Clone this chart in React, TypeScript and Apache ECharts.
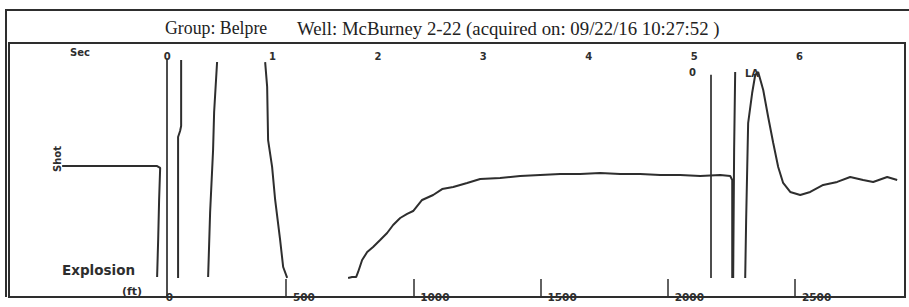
import React, { useEffect, useRef } from "react";
import * as echarts from "echarts";

// Time axis (top, seconds) and depth axis (bottom, ft)
const topTickLabels = ["0", "1", "2", "3", "4", "5", "6"];
const depthTicks = [500, 1000, 1500, 2000, 2500];
const depthLabels = [0, 500, 1000, 1500, 2000, 2500];

// Acoustic trace segments: [time (s), amplitude]; the trace is off-scale between segments
const segBaseline = [
  [-0.996, 3.1], [-0.5, 3.1], [-0.095, 3.1], [-0.066, 1.6], [-0.076, -23.6], [-0.085, -55.1], [-0.095, -84.3],
];
const segShot1 = [[0.104, -85.0], [0.104, 26.0], [0.123, 30.7], [0.133, 34.6], [0.133, 86.6]];
const segShot2 = [[0.389, -84.3], [0.408, -33.1], [0.436, 15.7], [0.446, 45.7], [0.474, 85.0]];
const segShot3 = [
  [0.93, 85.0], [0.949, 65.4], [0.958, 23.6], [0.996, 2.4], [1.025, -23.6], [1.072, -55.1], [1.101, -76.4], [1.139, -85.0],
];
const segRecovery = [
  [1.717, -85.0], [1.755, -84.3], [1.793, -84.3], [1.812, -80.3], [1.85, -70.9], [1.898, -64.6], [1.954, -60.6],
  [2.021, -55.1], [2.087, -49.6], [2.144, -43.3], [2.211, -37.8], [2.277, -34.6], [2.334, -32.3], [2.419, -23.6],
  [2.524, -19.7], [2.609, -15.0], [2.714, -13.4], [2.846, -10.2], [2.97, -7.1], [3.159, -6.3], [3.349, -4.7],
  [3.539, -3.9], [3.729, -3.1], [3.918, -3.1], [4.108, -2.4], [4.298, -3.1], [4.488, -3.1], [4.677, -3.9],
  [4.867, -3.9], [5.057, -4.7], [5.247, -3.9], [5.342, -4.7], [5.361, -7.9], [5.361, -85.0],
];
const segEcho1 = [[5.37, -85.0], [5.379, 15.7], [5.389, 77.2]];
const segEcho2 = [
  [5.484, -85.0], [5.493, -39.4], [5.512, 37.0], [5.55, 60.6], [5.579, 74.8], [5.607, 77.2], [5.655, 63.0],
  [5.702, 41.7], [5.75, 21.3], [5.797, 2.4], [5.844, -10.2], [5.911, -17.3], [6.006, -19.7], [6.101, -17.3],
  [6.224, -11.8], [6.357, -9.4], [6.48, -5.5], [6.603, -7.9], [6.698, -9.4], [6.831, -5.5], [6.926, -7.9],
];
const traceSegments = [segBaseline, segShot1, segShot2, segShot3, segRecovery, segEcho1, segEcho2];

// Marker lines: [time, top amplitude, bottom amplitude]
const markers = [
  [0, 88, -100],
  [5.161, 75, -85],
];

const INK = "#2e2e2e";
const LABEL_FONT = "DejaVu Sans";

export default function App() {
  const ref = useRef<HTMLDivElement>(null);

  useEffect(() => {
    document.body.style.margin = "0";
    if (!ref.current) return;
    const chart = echarts.init(ref.current, null, { renderer: "svg" });

    const series: any[] = traceSegments.map((seg, i) => ({
      type: "line",
      xAxisIndex: 0,
      yAxisIndex: 0,
      data: seg,
      symbol: "none",
      showSymbol: false,
      silent: true,
      lineStyle: { color: INK, width: 2 },
      markLine:
        i === 0
          ? {
              silent: true,
              symbol: "none",
              label: { show: false },
              lineStyle: { color: INK, width: 1.7, type: "solid" },
              data: markers.map((m) => [{ coord: [m[0], m[1]] }, { coord: [m[0], m[2]] }]),
            }
          : undefined,
    }));

    const titleStyle = { fontFamily: "Liberation Serif", fontWeight: "normal", color: "#222" };

    const option: any = {
      animation: false,
      backgroundColor: "#fff",
      title: [
        {
          text: "Group: Belpre",
          left: 160,
          top: 14,
          textStyle: { ...titleStyle, fontSize: 17.8 },
        },
        {
          text: "Well: McBurney 2-22 (acquired on: 09/22/16 10:27:52 )",
          left: 292,
          top: 14,
          textStyle: { ...titleStyle, fontSize: 18.8 },
        },
      ],
      grid: {
        left: 9,
        right: 4,
        top: 43,
        bottom: 10,
        show: true,
        borderColor: INK,
        borderWidth: 2,
      },
      xAxis: [
        {
          type: "value",
          position: "top",
          min: -1.5,
          max: 7,
          interval: 0.5,
          axisLine: { show: false },
          axisTick: { show: false },
          splitLine: { show: false },
          axisLabel: {
            inside: true,
            margin: 8,
            showMinLabel: true,
            showMaxLabel: true,
            color: INK,
            fontFamily: LABEL_FONT,
            fontWeight: "bold",
            fontSize: 10,
            formatter: (v: number) => {
              const s = String(v);
              return topTickLabels.includes(s) ? s : "";
            },
          },
        },
        {
          type: "value",
          position: "bottom",
          min: -588.4,
          max: 2932.2,
          axisLine: { show: false },
          splitLine: { show: false },
          axisTick: {
            show: true,
            inside: true,
            length: 18,
            customValues: depthTicks,
            lineStyle: { color: INK, width: 1.5 },
          },
          axisLabel: {
            customValues: depthLabels,
            margin: 0,
            align: "left",
            verticalAlign: "middle",
            padding: [0, 0, 0, 7],
            color: INK,
            fontFamily: LABEL_FONT,
            fontWeight: "bold",
            fontSize: 10.5,
            formatter: (v: number) => String(v),
          },
        },
      ],
      yAxis: {
        type: "value",
        min: -100,
        max: 100,
        show: false,
      },
      graphic: [
        { type: "line", silent: true, shape: { x1: 5, y1: 10, x2: 909, y2: 10 }, style: { stroke: INK, lineWidth: 2 } },
        { type: "line", silent: true, shape: { x1: 6, y1: 9, x2: 6, y2: 297 }, style: { stroke: INK, lineWidth: 2 } },
        {
          type: "text", silent: true, x: 70, y: 47,
          style: { text: "Sec", fill: INK, font: `bold 10px "${LABEL_FONT}"` },
        },
        {
          type: "text", silent: true, x: 62, y: 263,
          style: { text: "Explosion", fill: INK, font: `bold 13.5px "${LABEL_FONT}"` },
        },
        {
          type: "text", silent: true, x: 122, y: 286,
          style: { text: "(ft)", fill: INK, font: `bold 11px "${LABEL_FONT}"` },
        },
        {
          type: "text", silent: true, x: 52, y: 172, rotation: Math.PI / 2,
          style: { text: "Shot", fill: INK, font: `bold 10px "${LABEL_FONT}"` },
        },
        {
          type: "text", silent: true, x: 689, y: 67,
          style: { text: "0", fill: INK, font: `bold 10px "${LABEL_FONT}"` },
        },
        {
          type: "text", silent: true, x: 745, y: 68,
          style: { text: "LA", fill: INK, font: `bold 10px "${LABEL_FONT}"` },
        },
      ],
      series,
    };

    chart.setOption(option);
    return () => chart.dispose();
  }, []);

  return <div ref={ref} style={{ width: 909, height: 307 }} />;
}
